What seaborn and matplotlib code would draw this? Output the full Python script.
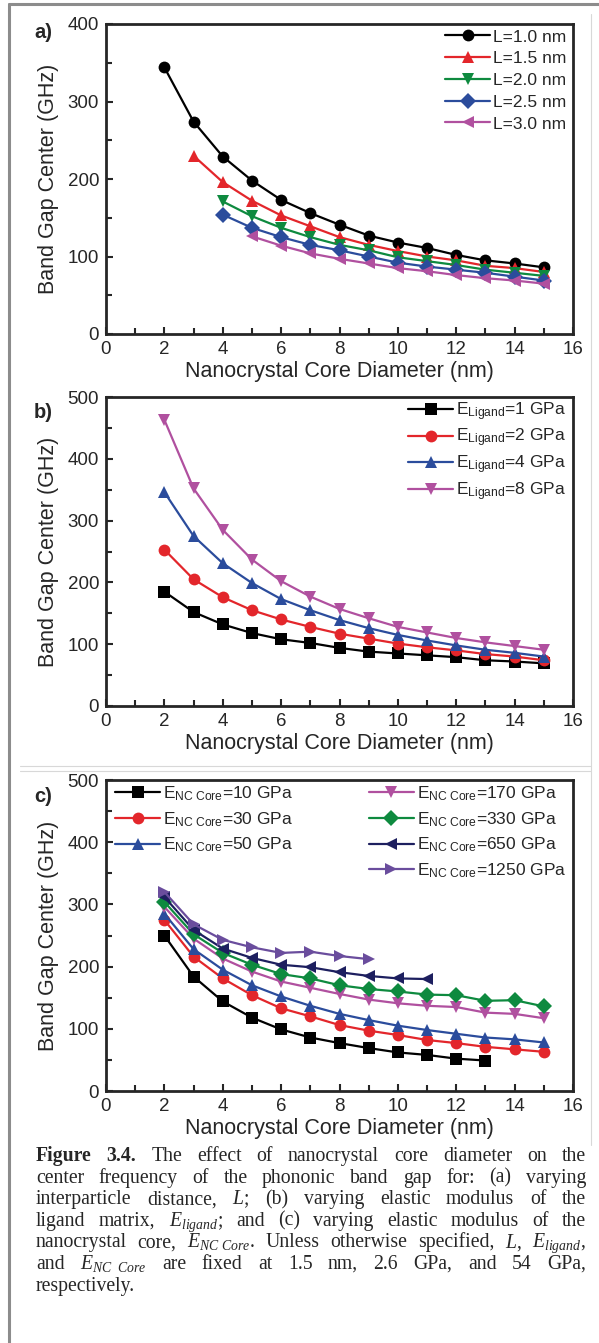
import pandas as pd
import matplotlib
matplotlib.use('Agg')
import matplotlib.pyplot as plt
import matplotlib.lines as mlines
import seaborn as sns

# --- data ---
d_a = list(range(2, 16))
L10 = [344, 274, 229, 198, 173, 156, 141, 127, 118, 111, 102, 95, 91, 86]
d_L15 = list(range(3, 16))
L15 = [230, 196, 172, 153, 139, 125, 115, 107, 100, 95, 88, 85, 80]
d_L20 = list(range(4, 16))
L20 = [171, 152, 137, 125, 115, 108, 99, 94, 89, 83, 79, 75]
d_L25 = list(range(4, 16))
L25 = [154, 137, 125, 115, 108, 100, 92, 87, 83, 79, 74, 69]
d_L30 = list(range(5, 16))
L30 = [126, 114, 104, 97, 91, 85, 81, 76, 72, 69, 65]
labels_a = ['L=1.0 nm', 'L=1.5 nm', 'L=2.0 nm', 'L=2.5 nm', 'L=3.0 nm']

d_b = list(range(2, 16))
Elig1 = [185, 152, 132, 118, 108, 102, 94, 88, 85, 82, 79, 74, 72, 69]
Elig2 = [253, 205, 176, 155, 140, 128, 117, 109, 101, 95, 90, 84, 80, 74]
Elig4 = [346, 275, 231, 199, 173, 155, 139, 126, 115, 106, 98, 91, 86, 80]
Elig8 = [463, 352, 285, 237, 202, 177, 157, 142, 128, 119, 110, 103, 97, 91]
labels_b = [r'$\mathregular{E_{Ligand}}$=1 GPa', r'$\mathregular{E_{Ligand}}$=2 GPa',
            r'$\mathregular{E_{Ligand}}$=4 GPa', r'$\mathregular{E_{Ligand}}$=8 GPa']

d_c10 = list(range(2, 14))
Ec10 = [250, 184, 144, 118, 99, 86, 77, 69, 62, 58, 52, 49]
d_c = list(range(2, 16))
Ec30 = [275, 216, 181, 154, 133, 120, 106, 97, 90, 82, 77, 71, 67, 63]
Ec50 = [285, 228, 195, 170, 152, 137, 124, 114, 105, 98, 92, 86, 83, 78]
Ec170 = [296, 245, 213, 192, 176, 166, 156, 147, 141, 137, 135, 126, 124, 117]
Ec330 = [304, 252, 222, 203, 188, 181, 170, 164, 160, 155, 154, 145, 146, 136]
d_c650 = list(range(2, 12))
Ec650 = [312, 259, 229, 214, 203, 199, 191, 185, 181, 180]
d_c1250 = list(range(2, 10))
Ec1250 = [320, 268, 243, 231, 222, 224, 217, 212]
labels_c = [r'$\mathregular{E_{NC\ Core}}$=10 GPa', r'$\mathregular{E_{NC\ Core}}$=30 GPa',
            r'$\mathregular{E_{NC\ Core}}$=50 GPa', r'$\mathregular{E_{NC\ Core}}$=170 GPa',
            r'$\mathregular{E_{NC\ Core}}$=330 GPa', r'$\mathregular{E_{NC\ Core}}$=650 GPa',
            r'$\mathregular{E_{NC\ Core}}$=1250 GPa']

BLACK, RED, GREEN, BLUE, MAGENTA = '#000000', '#e3262b', '#0e8a3f', '#2b4c9c', '#b0509f'
NAVY, PURPLE = '#1d1f5f', '#6a4d9d'

sns.set_style('ticks')
plt.rcParams['font.family'] = ['Liberation Sans', 'DejaVu Sans']
plt.rcParams['mathtext.fontset'] = 'custom'
plt.rcParams['mathtext.rm'] = 'Liberation Serif'
plt.rcParams['mathtext.it'] = 'Liberation Serif:italic'

W, H = 599, 1343
fig = plt.figure(figsize=(W / 100, H / 100), dpi=100)


def ax_rect(top, bottom, left=106, right=573):
    return [left / W, 1 - bottom / H, (right - left) / W, (bottom - top) / H]


def long_df(xs, ys, labels):
    rows = []
    for x, y, lab in zip(xs, ys, labels):
        rows += [(xi, yi, lab) for xi, yi in zip(x, y)]
    return pd.DataFrame(rows, columns=['d', 'f', 'series'])


def draw_panel(ax, df, labels, colors, markers, ymax, tag, tag_y):
    sns.lineplot(data=df, x='d', y='f', hue='series', style='series',
                 hue_order=labels, style_order=labels,
                 palette=dict(zip(labels, colors)), markers=dict(zip(labels, markers)),
                 dashes=False, markersize=8.5, markeredgewidth=0, linewidth=1.6,
                 sort=False, legend=False, ax=ax)
    ax.set_xlim(0, 16)
    ax.set_ylim(0, ymax)
    ax.set_xticks(range(0, 17, 2))
    ax.set_xticks(range(1, 16, 2), minor=True)
    ax.set_yticks(range(0, ymax + 1, 100))
    ax.set_yticks(range(50, ymax, 100), minor=True)
    ax.tick_params(which='both', direction='in', width=1.5, labelsize=13.5, pad=5,
                   top=False, right=False)
    ax.tick_params(which='major', length=5)
    ax.tick_params(which='minor', length=4)
    for sp in ax.spines.values():
        sp.set_linewidth(2)
    ax.set_xlabel('Nanocrystal Core Diameter (nm)', fontsize=15.5, labelpad=2)
    ax.set_ylabel('Band Gap Center (GHz)', fontsize=15.5, labelpad=6)
    fig.text(34 / W, 1 - tag_y / H, tag, fontsize=14.5, fontweight='bold', va='center', ha='left')


def handles(colors, markers):
    return [mlines.Line2D([], [], color=c, marker=m, markersize=8.5, markeredgewidth=0, linewidth=1.6)
            for c, m in zip(colors, markers)]


LEG = dict(frameon=False, fontsize=12.5, handlelength=2.6, handletextpad=0.15, borderaxespad=0)

# panel a
ax_a = fig.add_axes(ax_rect(24, 334))
cols_a = [BLACK, RED, GREEN, BLUE, MAGENTA]
mk_a = ['o', '^', 'v', 'D', '<']
df_a = long_df([d_a, d_L15, d_L20, d_L25, d_L30], [L10, L15, L20, L25, L30], labels_a)
draw_panel(ax_a, df_a, labels_a, cols_a, mk_a, 400, 'a)', 33)
ax_a.legend(handles(cols_a, mk_a), labels_a, loc='upper right', bbox_to_anchor=(1.0, 1.005),
            labelspacing=0.38, **LEG)

# panel b
ax_b = fig.add_axes(ax_rect(397, 706))
cols_b = [BLACK, RED, BLUE, MAGENTA]
mk_b = ['s', 'o', '^', 'v']
df_b = long_df([d_b] * 4, [Elig1, Elig2, Elig4, Elig8], labels_b)
draw_panel(ax_b, df_b, labels_b, cols_b, mk_b, 500, 'b)', 413)
ax_b.legend(handles(cols_b, mk_b), labels_b, loc='upper right', bbox_to_anchor=(1.0, 1.013),
            labelspacing=0.24, **LEG)

# panel c
ax_c = fig.add_axes(ax_rect(780, 1091))
cols_c = [BLACK, RED, BLUE, MAGENTA, GREEN, NAVY, PURPLE]
mk_c = ['s', 'o', '^', 'v', 'D', '<', '>']
df_c = long_df([d_c10, d_c, d_c, d_c, d_c, d_c650, d_c1250],
               [Ec10, Ec30, Ec50, Ec170, Ec330, Ec650, Ec1250], labels_c)
draw_panel(ax_c, df_c, labels_c, cols_c, mk_c, 500, 'c)', 797)
hc = handles(cols_c, mk_c)
leg1 = ax_c.legend(hc[:3], labels_c[:3], loc='upper left', bbox_to_anchor=(0.005, 1.008),
                   labelspacing=0.4, **LEG)
ax_c.add_artist(leg1)
ax_c.legend(hc[3:], labels_c[3:], loc='upper right', bbox_to_anchor=(1.0, 1.008),
            labelspacing=0.4, **LEG)

# page frame
def fline(x0, y0, x1, y1, color, lw):
    fig.add_artist(mlines.Line2D([x0 / W, x1 / W], [1 - y0 / H, 1 - y1 / H],
                                 color=color, linewidth=lw, transform=fig.transFigure))

fline(9, 4, 9, H, '#8c8c8c', 2.2)
fline(9, 4, W, 4, '#8c8c8c', 2.2)
fline(591, 14, 591, 1145, '#d8d8d8', 0.8)
fline(20, 766, 591, 766, '#d8d8d8', 0.8)
fline(20, 771, 591, 771, '#d8d8d8', 0.8)

# caption, justified
cap_lines = [
    [('Figure', 'bold'), ('3.4.', 'bold')] + [(w, 'normal') for w in 'The effect of nanocrystal core diameter on the'.split()],
    [(w, 'normal') for w in 'center frequency of the phononic band gap for: (a) varying'.split()],
    [(w, 'normal') for w in ['interparticle', 'distance,', r'$\mathit{L}$;', '(b)', 'varying', 'elastic', 'modulus', 'of', 'the']],
    [(w, 'normal') for w in ['ligand', 'matrix,', r'$\mathit{E}_{\mathit{ligand}}$;', 'and', '(c)', 'varying', 'elastic', 'modulus', 'of', 'the']],
    [(w, 'normal') for w in ['nanocrystal', 'core,', r'$\mathit{E}_{\mathit{NC\ Core}}$.', 'Unless', 'otherwise', 'specified,',
                             r'$\mathit{L}$,', r'$\mathit{E}_{\mathit{ligand}}$,']],
    [(w, 'normal') for w in ['and', r'$\mathit{E}_{\mathit{NC\ \ Core}}$', 'are', 'fixed', 'at', '1.5', 'nm,', '2.6', 'GPa,', 'and', '54', 'GPa,']],
    [(w, 'normal') for w in ['respectively.']],
]
cap_left, cap_right, cap_y0, cap_step = 36, 586, 1161, 21.6
fig.canvas.draw()
renderer = fig.canvas.get_renderer()
for i, line in enumerate(cap_lines):
    y = 1 - (cap_y0 + i * cap_step) / H
    texts = [fig.text(0, y, w, fontsize=14.2, fontweight=wt, family='Liberation Serif',
                      ha='left', va='baseline') for w, wt in line]
    widths = [t.get_window_extent(renderer).width for t in texts]
    last = i == len(cap_lines) - 1
    space = 4.5 if last or len(texts) == 1 else (cap_right - cap_left - sum(widths)) / (len(texts) - 1)
    x = cap_left
    for t, wd in zip(texts, widths):
        t.set_x(x / W)
        x += wd + space

fig.savefig('out.png', dpi=100)
